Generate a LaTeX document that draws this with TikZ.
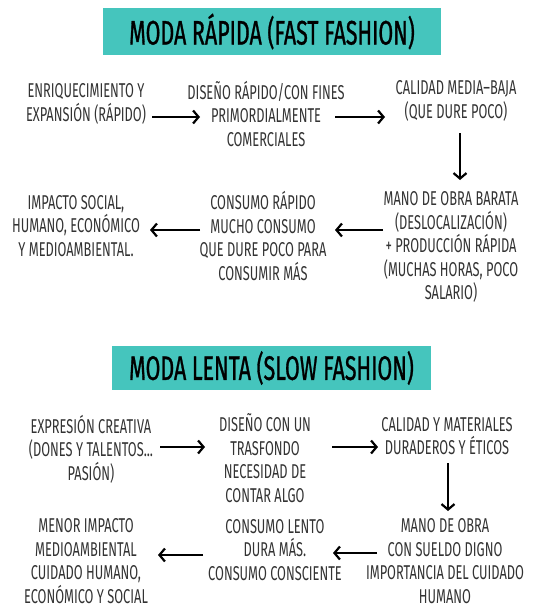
\documentclass[tikz,border=0pt]{standalone}
\usepackage{fontspec}
\setmainfont[FakeStretch=0.64]{Fira Sans}
\newfontfamily\titlefont[FakeStretch=0.63,FakeBold=0.8]{Fira Sans}
\usetikzlibrary{arrows.meta}
\definecolor{teal1}{HTML}{45C5BD}
\definecolor{ink}{HTML}{333333}
\tikzset{
  txt/.style={align=center, inner sep=0pt, text=ink, font=\fontsize{20}{23.5}\selectfont},
  ttl/.style={fill=teal1, inner sep=0pt, text=black, font=\titlefont\fontsize{34}{36}\selectfont},
  arr/.style={line width=2.3pt, draw=black, -{Straight Barb[length=5.5pt,width=13pt,line width=2.2pt]}}
}
\begin{document}
\begin{tikzpicture}[x=1pt,y=-1pt]
\useasboundingbox (0,0) rectangle (535,608);
% titles
\node[ttl, minimum width=338pt, minimum height=47pt] (T1) at (272,31.5) {MODA RÁPIDA (FAST FASHION)};
\node[ttl, minimum width=319pt, minimum height=44pt] (T2) at (271.5,368) {MODA LENTA (SLOW FASHION)};
% fast fashion
\node[txt] (A) at (86,104) {ENRIQUECIMIENTO Y\\EXPANSIÓN (RÁPIDO)};
\node[txt] (B) at (266,114) {DISEÑO RÁPIDO/CON FINES\\PRIMORDIALMENTE\\COMERCIALES};
\node[txt] (C) at (456,101) {CALIDAD MEDIA–BAJA\\(QUE DURE POCO)};
\node[txt] (D) at (451,247) {MANO DE OBRA BARATA\\(DESLOCALIZACIÓN)\\+ PRODUCCIÓN RÁPIDA\\(MUCHAS HORAS, POCO\\SALARIO)};
\node[txt] (E) at (263,236) {CONSUMO RÁPIDO\\MUCHO CONSUMO\\QUE DURE POCO PARA\\CONSUMIR MÁS};
\node[txt] (F) at (76,226) {IMPACTO SOCIAL,\\HUMANO, ECONÓMICO\\Y MEDIOAMBIENTAL.};
% slow fashion
\node[txt] (G) at (91,449) {EXPRESIÓN CREATIVA\\(DONES Y TALENTOS...\\PASIÓN)};
\node[txt] (H) at (265,458) {DISEÑO CON UN\\TRASFONDO\\NECESIDAD DE\\CONTAR ALGO};
\node[txt] (I) at (447,436) {CALIDAD Y MATERIALES\\DURADEROS Y ÉTICOS};
\node[txt] (J) at (445,561) {MANO DE OBRA\\CON SUELDO DIGNO\\IMPORTANCIA DEL CUIDADO\\HUMANO};
\node[txt] (K) at (275,550) {CONSUMO LENTO\\DURA MÁS.\\CONSUMO CONSCIENTE};
\node[txt] (L) at (86,561) {MENOR IMPACTO\\MEDIOAMBIENTAL\\CUIDADO HUMANO,\\ECONÓMICO Y SOCIAL};
% arrows fast
\draw[arr] ([shift={(66,13)}]A.center) -- ([shift={(-66,3)}]B.center);
\draw[arr] ([shift={(69,3)}]B.center) -- ([shift={(-71,16)}]C.center);
\draw[arr] ([shift={(4,32)}]C.center) -- ([shift={(9,-67)}]D.center);
\draw[arr] ([shift={(-68,-17)}]D.center) -- ([shift={(72,-6)}]E.center);
\draw[arr] ([shift={(-63,-6)}]E.center) -- ([shift={(74,4)}]F.center);
% arrows slow
\draw[arr] ([shift={(69,-2)}]G.center) -- ([shift={(-60,-11)}]H.center);
\draw[arr] ([shift={(67,-11)}]H.center) -- ([shift={(-69,11)}]I.center);
\draw[arr] ([shift={(1,27)}]I.center) -- ([shift={(3,-50)}]J.center);
\draw[arr] ([shift={(-68,-8)}]J.center) -- ([shift={(58,3)}]K.center);
\draw[arr] ([shift={(-72,5)}]K.center) -- ([shift={(72,-6)}]L.center);
\end{tikzpicture}
\end{document}
